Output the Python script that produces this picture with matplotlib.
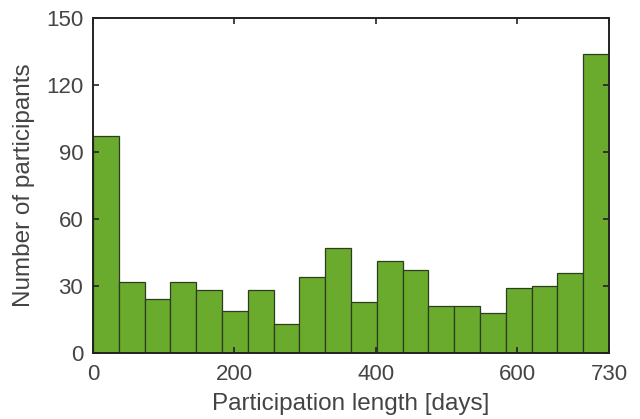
import numpy as np
import matplotlib
matplotlib.use('Agg')
import matplotlib.pyplot as plt

plt.rcParams['font.family'] = ['Liberation Sans', 'DejaVu Sans']

# histogram counts, 20 equal bins over 0..730 days
bin_edges = np.linspace(0, 730, 21)
counts = [97, 32, 24, 32, 28, 19, 28, 13, 34, 47, 23, 41, 37, 21, 21, 18, 29, 30, 36, 134]
xticks = [0, 200, 400, 600, 730]
yticks = [0, 30, 60, 90, 120, 150]

fig = plt.figure(figsize=(6.4, 4.19), dpi=100)
ax = fig.add_axes([0.1453, 0.1575, 0.8063, 0.7995])

ax.bar(bin_edges[:-1], counts, width=np.diff(bin_edges), align='edge',
       color='#6aaa2c', edgecolor='#2d3d20', linewidth=0.9)

ax.set_xlim(0, 730)
ax.set_ylim(0, 150)
ax.set_xticks(xticks)
ax.set_yticks(yticks)
ax.tick_params(direction='in', top=True, right=True, length=4, width=1.2,
               labelsize=16, colors='#222222', labelcolor='#444444')
ax.tick_params(axis='x', pad=8)
ax.tick_params(axis='y', pad=7)
for s in ax.spines.values():
    s.set_linewidth(1.4)
    s.set_color('#222222')

ax.set_xlabel('Participation length [days]', fontsize=17.5, color='#444444')
ax.set_ylabel('Number of participants', fontsize=17.5, color='#444444')
ax.xaxis.set_label_coords(0.5, -0.12)
ax.yaxis.set_label_coords(-0.112, 0.5)

fig.savefig('out.png', dpi=100)
